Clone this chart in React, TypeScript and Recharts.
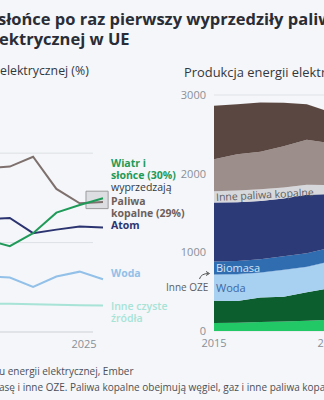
import React from 'react';
import {
  LineChart, Line, AreaChart, Area, XAxis, YAxis, CartesianGrid,
  ReferenceLine, ReferenceArea,
} from 'recharts';

// ---------- Left chart: share of electricity generation (%) ----------
const shareYears = [2015, 2016, 2017, 2018, 2019, 2020, 2021, 2022, 2023, 2024, 2025];
const fossilShare = [42.5, 41.5, 42.0, 39.5, 38.5, 36.7, 37.0, 39.2, 32.0, 28.8, 29.1];
const windSolarShare = [13.0, 13.1, 14.8, 15.5, 17.7, 20.6, 19.2, 22.1, 26.7, 28.4, 29.9];
const nuclearShare = [26.5, 26.0, 25.5, 25.6, 25.8, 25.2, 25.5, 22.1, 22.9, 23.6, 23.4];
const hydroShare = [12.0, 12.2, 10.7, 12.0, 11.2, 12.5, 12.2, 10.1, 12.4, 13.5, 11.8];
const otherCleanShare = [6.6, 6.6, 6.5, 6.5, 6.4, 6.3, 6.3, 6.2, 6.1, 6.0, 5.9];
const shareTicks = [2025];

// ---------- Right chart: generation (TWh) ----------
const genYears = [2015, 2016, 2017, 2018, 2019, 2020, 2021, 2022, 2023, 2024, 2025];
const solarTWh = [103, 106, 113, 120, 130, 144, 160, 205, 250, 300, 360];
const windTWh = [280, 275, 312, 315, 362, 400, 385, 420, 475, 480, 500];
const hydroTWh = [325, 332, 308, 335, 315, 330, 345, 280, 335, 370, 330];
const otherRenewTWh = [10, 10, 10, 10, 10, 10, 10, 10, 10, 10, 10];
const bioTWh = [165, 168, 170, 170, 170, 172, 175, 170, 165, 160, 160];
const nuclearTWh = [750, 745, 738, 735, 745, 685, 730, 610, 620, 650, 650];
const otherFossilTWh = [145, 150, 150, 140, 128, 115, 110, 110, 100, 95, 90];
const gasTWh = [405, 460, 478, 525, 572, 530, 550, 560, 450, 420, 450];
const coalTWh = [680, 635, 625, 552, 450, 400, 460, 500, 350, 270, 260];
const genYTicks = [0, 1000, 2000, 3000];
const genXTicks = [2015, 2020, 2025];

const shareData = shareYears.map((year, i) => ({
  year,
  fossil: fossilShare[i],
  windSolar: windSolarShare[i],
  nuclear: nuclearShare[i],
  hydro: hydroShare[i],
  otherClean: otherCleanShare[i],
}));

const genData = genYears.map((year, i) => ({
  year,
  solar: solarTWh[i],
  wind: windTWh[i],
  hydro: hydroTWh[i],
  otherRenew: otherRenewTWh[i],
  bio: bioTWh[i],
  nuclear: nuclearTWh[i],
  otherFossil: otherFossilTWh[i],
  gas: gasTWh[i],
  coal: coalTWh[i],
}));

const FONT = "'Open Sans', 'Noto Sans', sans-serif";
const BG = '#f4f6f9';

const LeftTick = (props: any) => {
  const { x, y, payload } = props;
  return (
    <text x={x - 10} y={y} dy="0.71em" textAnchor="middle" fontSize={11} fill="#8a8f98" fontFamily={FONT}>
      {payload.value}
    </text>
  );
};

const abs = (left: number, top: number, extra: React.CSSProperties = {}): React.CSSProperties => ({
  position: 'absolute', left, top, whiteSpace: 'nowrap', fontFamily: FONT, ...extra,
});

const lbl = (color: string, weight: number) => ({ fontSize: 10.5, fontWeight: weight, color, lineHeight: '11.5px' });

export default function App() {
  return (
    <div style={{ position: 'fixed', left: 0, top: 0, width: 324, height: 400, overflow: 'hidden', background: BG }}>
      {/* Title */}
      <div style={abs(-2, 8, { fontSize: 16.5, fontWeight: 700, color: '#2a2d36', lineHeight: '22px' })}>
        słońce po raz pierwszy wyprzedziły paliwa kopalne w produkcji
      </div>
      <div style={abs(-1, 28, { fontSize: 16.5, fontWeight: 700, color: '#2a2d36', lineHeight: '22px' })}>
        ektrycznej w UE
      </div>

      {/* Subtitles */}
      <div style={abs(0, 63, { fontSize: 12.3, color: '#33363d', lineHeight: '16px' })}>elektrycznej (%)</div>
      <div style={abs(184, 64, { fontSize: 12.9, color: '#33363d', lineHeight: '16px' })}>
        Produkcja energii elektrycznej (TWh)
      </div>

      {/* Left line chart */}
      <div style={{ position: 'absolute', left: -150, top: 130 }}>
        <LineChart width={260} height={225} data={shareData} margin={{ top: 12, right: 7, bottom: 0, left: 20 }}>
          <XAxis dataKey="year" type="number" domain={[2015, 2025]} ticks={shareTicks}
            tick={<LeftTick />} axisLine={false} tickLine={false} height={23} />
          <YAxis hide domain={[0, 40]} />
          <ReferenceLine segment={[{ x: 2015, y: 40 }, { x: 2024.57, y: 40 }]} stroke="#dde0e4" strokeWidth={1} />
          <ReferenceLine segment={[{ x: 2015, y: 20 }, { x: 2024.57, y: 20 }]} stroke="#dde0e4" strokeWidth={1} />
          <ReferenceLine segment={[{ x: 2015, y: 0 }, { x: 2024.57, y: 0 }]} stroke="#cdd0d5" strokeWidth={1} />
          <Line dataKey="otherClean" stroke="#a7e3d6" strokeWidth={2} dot={false} isAnimationActive={false} />
          <Line dataKey="hydro" stroke="#92c0e8" strokeWidth={2} dot={false} isAnimationActive={false} />
          <Line dataKey="nuclear" stroke="#2b3470" strokeWidth={2} dot={false} isAnimationActive={false} />
          <Line dataKey="fossil" stroke="#7e706d" strokeWidth={2} dot={false} isAnimationActive={false} />
          <Line dataKey="windSolar" stroke="#1f9a58" strokeWidth={2} dot={false} isAnimationActive={false} />
          <ReferenceArea x1={2024.27} x2={2025.22} y1={27.6} y2={31.5} ifOverflow="visible"
            fill="#c9cacd" fillOpacity={0.55} stroke="#9c9c9e" strokeWidth={1} />
        </LineChart>
      </div>

      {/* Left chart labels */}
      <div style={abs(111, 158, lbl('#1f9a58', 700))}>Wiatr i</div>
      <div style={abs(111, 169.5, lbl('#1f9a58', 700))}>słońce (30%)</div>
      <div style={abs(111, 182, lbl('#33363d', 400))}>wyprzedzają</div>
      <div style={abs(111, 196, lbl('#6e5f5b', 700))}>Paliwa</div>
      <div style={abs(111, 207.5, lbl('#6e5f5b', 700))}>kopalne (29%)</div>
      <div style={abs(111, 220, lbl('#2b3470', 700))}>Atom</div>
      <div style={abs(111, 268, lbl('#92c0e8', 700))}>Woda</div>
      <div style={abs(111, 301, lbl('#a7e3d6', 600))}>Inne czyste</div>
      <div style={abs(111, 312.5, lbl('#a7e3d6', 600))}>źródła</div>

      {/* Right stacked area chart */}
      <div style={{ position: 'absolute', left: 170, top: 85 }}>
        <AreaChart width={290} height={266} data={genData} margin={{ top: 10, right: 14, bottom: 0, left: 0 }}>
          <CartesianGrid vertical={false} stroke="#dfe2e6" />
          <XAxis dataKey="year" type="number" domain={[2015, 2025]} ticks={genXTicks}
            axisLine={false} tickLine={false} height={20}
            tick={{ fontSize: 11, fill: '#8a8f98', fontFamily: FONT }} />
          <YAxis domain={[0, 3000]} ticks={genYTicks} width={44} axisLine={false} tickLine={false}
            tick={{ fontSize: 11, fill: '#8a8f98', fontFamily: FONT }} />
          <Area dataKey="solar" stackId="g" type="linear" stroke="none" fill="#22c766" fillOpacity={1} isAnimationActive={false} />
          <Area dataKey="wind" stackId="g" type="linear" stroke="none" fill="#0c5e2f" fillOpacity={1} isAnimationActive={false} />
          <Area dataKey="hydro" stackId="g" type="linear" stroke="none" fill="#a8d0f0" fillOpacity={1} isAnimationActive={false} />
          <Area dataKey="otherRenew" stackId="g" type="linear" stroke="none" fill="#86b8e6" fillOpacity={1} isAnimationActive={false} />
          <Area dataKey="bio" stackId="g" type="linear" stroke="none" fill="#2f6db0" fillOpacity={1} isAnimationActive={false} />
          <Area dataKey="nuclear" stackId="g" type="linear" stroke="none" fill="#2c3a78" fillOpacity={1} isAnimationActive={false} />
          <Area dataKey="otherFossil" stackId="g" type="linear" stroke="none" fill="#d7d8db" fillOpacity={1} isAnimationActive={false} />
          <Area dataKey="gas" stackId="g" type="linear" stroke="none" fill="#9c8e8b" fillOpacity={1} isAnimationActive={false} />
          <Area dataKey="coal" stackId="g" type="linear" stroke="none" fill="#5b4741" fillOpacity={1} isAnimationActive={false} />
        </AreaChart>
      </div>

      {/* Right chart labels */}
      <div style={abs(216, 191, { fontSize: 10.5, color: '#5e5e62', lineHeight: '12px', transform: 'rotate(-3deg)', transformOrigin: 'left center' })}>
        Inne paliwa kopalne
      </div>
      <div style={abs(216, 261, { fontSize: 11, color: '#d4e5f6', lineHeight: '13px' })}>Biomasa</div>
      <div style={abs(216, 281, { fontSize: 11, color: '#3c68a5', lineHeight: '13px' })}>Woda</div>
      <div style={abs(166, 281, { fontSize: 10, color: '#5e5e62', lineHeight: '13px' })}>Inne OZE</div>
      <svg width={324} height={400} style={{ position: 'absolute', left: 0, top: 0, pointerEvents: 'none' }}>
        <path d="M 199.5 279 Q 201 273.5 208.5 273.5" fill="none" stroke="#555" strokeWidth={1} />
        <path d="M 206 271.5 L 209.5 273.5 L 206 275.5" fill="none" stroke="#555" strokeWidth={1} />
      </svg>

      {/* Footer */}
      <div style={abs(-1, 364, { fontSize: 10, color: '#4c4f57', lineHeight: '14px' })}>
        u energii elektrycznej, Ember
      </div>
      <div style={abs(-1, 380, { fontSize: 10, color: '#4c4f57', lineHeight: '14px' })}>
        asę i inne OZE. Paliwa kopalne obejmują węgiel, gaz i inne paliwa kopalne.
      </div>
    </div>
  );
}
